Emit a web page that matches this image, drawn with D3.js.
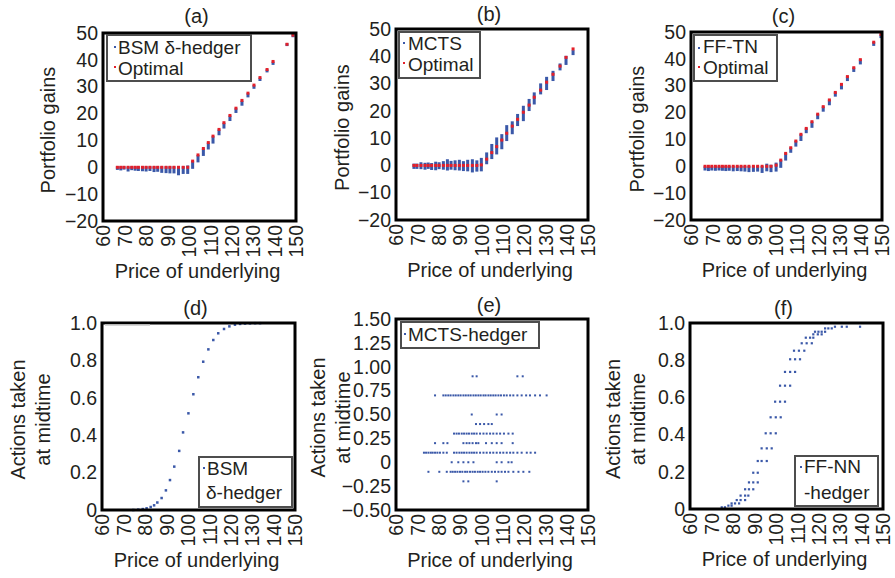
<!DOCTYPE html>
<html>
<head>
<meta charset="utf-8">
<script src="https://cdn.jsdelivr.net/npm/d3@7"></script>
<style>
    body { margin: 0; background: #fff; }
    svg text { font-family: "Liberation Sans", Arial, Helvetica, sans-serif; }
</style>
</head>
<body>
<svg id="svg_fig" width="895" height="578"></svg>
<script>
// ---- tick values / labels ----
const PRICE_TICKS = [60, 70, 80, 90, 100, 110, 120, 130, 140, 150];
const GAIN_TICKS = [-20, -10, 0, 10, 20, 30, 40, 50];
const GAIN_LABELS = ['\u221220', '\u221210', '0', '10', '20', '30', '40', '50'];
const ACT_TICKS = [0, 0.2, 0.4, 0.6, 0.8, 1.0];
const ACT_LABELS = ['0', '0.2', '0.4', '0.6', '0.8', '1.0'];
const MCTS_ACT_TICKS = [-0.5, -0.25, 0, 0.25, 0.5, 0.75, 1.0, 1.25, 1.5];
const MCTS_ACT_LABELS = ['\u22120.50', '\u22120.25', '0', '0.25', '0.50', '0.75', '1.00', '1.25', '1.50'];

// ---- (a) BSM delta hedger vs optimal ----
const A_PRICE = [66.7, 68.3, 69.8, 71.7, 73.4, 75.0, 76.5, 78.4, 80.1, 81.9, 83.8, 85.5, 87.4, 89.4, 91.2, 93.1, 95.2, 97.4, 99.5,
    101.8, 104.3, 106.8, 109.1, 111.3, 114.1, 116.4, 119.2, 122.0, 124.8, 127.6, 130.4, 133.2, 136.5, 139.3, 145.8, 148.6];
const A_OPT = [0, 0, 0, 0, 0, 0, 0, 0, 0, 0, 0, 0, 0, 0, 0, 0, 0, 0, 0,
    2.3, 4.6, 7.0, 9.2, 11.6, 14.1, 16.6, 19.3, 22.0, 24.9, 27.6, 30.6, 33.4, 36.4, 39.4, 45.8, 49.2];
const A_LOW = [-0.6, -0.8, -0.5, -1.2, -0.7, -0.9, -1.0, -1.1, -1.2, -1.0, -1.4, -1.3, -1.7, -1.8, -1.9, -1.9, -2.6, -2.1, -2.1,
    -0.2, 2.2, 4.6, 7.0, 9.2, 12.3, 14.8, 17.6, 20.6, 23.3, 26.4, 29.6, 32.5, 35.7, 38.5, 45.5, 48.8];
const A_HIGH = [0, 0, 0, -0.1, 0, 0, 0, 0, 0, 0, 0, 0, 0, 0, 0, 0, 0, 0, 0.3,
    2.0, 4.2, 6.6, 8.8, 11.2, 13.7, 16.2, 18.9, 21.6, 24.4, 27.2, 30.2, 33.0, 36.1, 39.0, 45.8, 49.2];

// ---- (b) MCTS vs optimal ----
const B_PRICE = [68.4, 69.8, 71.7, 73.6, 75.1, 76.7, 78.6, 80.2, 82.2, 84.1, 85.8, 87.7, 89.7, 91.6, 93.6, 95.8, 97.9, 100.0,
    102.5, 104.9, 107.2, 109.6, 111.9, 114.5, 117.0, 119.7, 122.4, 124.8, 127.8, 130.6, 133.6, 136.9, 139.7, 143.0];
const B_OPT = [0, 0, 0, 0, 0, 0, 0, 0, 0, 0, 0, 0, 0, 0, 0, 0, 0, 0.2,
    2.3, 4.7, 6.9, 9.3, 11.8, 14.4, 16.9, 19.5, 22.1, 25.0, 27.6, 30.5, 33.4, 36.4, 39.6, 42.7];
const B_LOW = [-0.9, -0.9, -1.0, -1.2, -0.9, -1.3, -1.4, -1.0, -1.2, -1.5, -1.2, -1.4, -1.5, -1.7, -1.8, -2.2, -1.9, -1.8,
    0.8, 2.7, 4.4, 6.3, 9.3, 11.8, 14.8, 16.6, 20.3, 22.7, 26.4, 28.0, 31.3, 35.2, 37.2, 40.8];
const B_HIGH = [0.3, 0.3, 0.8, 0.6, 0.7, 0.5, 1.0, 0.8, 1.2, 1.9, 1.3, 1.5, 1.7, 1.2, 1.7, 1.9, 1.5, 2.4,
    4.4, 7.5, 9.9, 11.1, 14.4, 15.8, 18.5, 21.5, 24.0, 26.4, 29.7, 32.1, 34.3, 37.0, 39.8, 41.9];

// ---- (c) FF-TN vs optimal ----
const C_PRICE = [66.6, 68.2, 69.8, 71.5, 73.2, 74.8, 76.4, 78.0, 79.9, 81.8, 83.6, 85.4, 87.3, 89.4, 91.4, 93.5, 95.7, 97.7, 100.1,
    102.3, 104.6, 107.0, 109.4, 111.8, 114.3, 117.0, 119.7, 122.3, 125.2, 128.0, 130.9, 133.7, 136.7, 139.8, 146.1, 149.5];
const C_OPT = [0, 0, 0, 0, 0, 0, 0, 0, 0, 0, 0, 0, 0, 0, 0, 0, 0, 0, 0.4,
    2.3, 4.8, 6.9, 9.4, 11.9, 14.1, 16.6, 19.4, 22.2, 24.7, 27.5, 30.5, 33.4, 36.7, 39.7, 46.2, 49.1];
const C_LOW = [-1.2, -1.4, -1.2, -1.3, -1.2, -1.3, -1.4, -1.3, -1.5, -1.4, -1.5, -1.6, -1.8, -1.7, -1.6, -2.1, -1.5, -1.8, -1.6,
    -0.2, 2.5, 5.4, 7.7, 9.8, 12.7, 14.7, 17.9, 20.7, 23.1, 26.3, 29.0, 32.1, 35.5, 38.3, 45.2, 48.1];
const C_HIGH = [-0.4, -0.5, -0.4, -0.3, -0.4, -0.3, -0.3, -0.3, -0.3, -0.3, -0.3, -0.3, -0.3, -0.3, -0.3, -0.3, 0.6, 0.2, 1.0,
    2.0, 4.5, 6.6, 9.1, 11.6, 13.8, 16.3, 19.1, 21.9, 24.4, 27.2, 30.2, 33.1, 36.4, 39.4, 45.9, 48.8];

// ---- (d) BSM delta at midtime ----
const D_PRICE = [74.6, 76.9, 79.0, 80.8, 82.7, 84.3, 85.8, 87.8, 89.8, 91.7, 93.7, 96.0, 97.8, 100.3, 102.6, 104.9,
    107.2, 109.6, 111.9, 114.2, 116.9, 119.4, 122.0, 124.4, 126.7, 129.0, 131.4, 133.7];
const D_ACTION = [0.000, 0.002, 0.005, 0.009, 0.016, 0.025, 0.040, 0.064, 0.105, 0.160, 0.232, 0.316, 0.415, 0.517, 0.619, 0.710,
    0.793, 0.859, 0.909, 0.945, 0.968, 0.982, 0.991, 0.995, 0.997, 0.998, 0.999, 0.999];

// ---- (e) MCTS actions at midtime: one price list per action level ----
const E_ACTION = [0.9, 0.7, 0.5, 0.4, 0.3, 0.2, 0.1, 0.0, -0.1, -0.2];
const E_PRICES = [
    [95.9, 97.8, 116.9, 119.4],
    [78.3, 82.2, 83.3, 84.5, 85.6, 86.9, 88.0, 89.2, 90.3, 91.6, 92.7, 93.9, 95.0, 96.3, 97.4, 98.6, 99.7, 101.0, 102.0, 103.3,
        104.4, 105.6, 106.7, 108.0, 109.2, 110.6, 111.9, 113.5, 115.0, 116.9, 118.9, 121.0, 122.8, 125.2, 127.5, 130.6],
    [95.5, 107.2, 109.5],
    [97.5, 99.4, 101.3, 103.3, 104.9],
    [87.2, 88.4, 89.5, 90.8, 91.9, 93.1, 94.2, 95.5, 96.6, 97.8, 99.4, 101.0, 102.5, 104.1, 105.6, 107.2, 108.8, 110.6, 112.7, 114.7],
    [78.3, 82.2, 84.1, 91.6, 93.1, 94.4, 95.9, 97.5, 98.6, 102.2, 104.9, 107.2, 109.5, 114.7],
    [73.1, 74.1, 75.2, 76.3, 77.2, 78.3, 79.4, 80.6, 82.2, 83.8, 87.2, 88.4, 89.7, 90.8, 91.9, 93.1, 94.4, 95.5, 96.6, 97.8,
        99.4, 101.0, 102.5, 104.1, 105.6, 107.2, 108.8, 110.3, 111.9, 113.5, 115.0, 116.9, 118.9, 121.3, 123.1, 125.2],
    [86.1, 89.2, 91.6, 93.9, 96.3, 107.2, 109.5, 112.7, 114.2],
    [75.2, 80.3, 83.8, 85.6, 86.6, 87.7, 88.8, 90.0, 91.1, 92.4, 93.4, 94.7, 95.9, 97.0, 98.3, 99.4, 100.6, 101.9, 103.3,
        104.9, 106.4, 108.0, 109.5, 111.1, 112.7, 115.0, 117.4, 119.7, 122.5],
    [91.6, 93.9, 107.2]
];

// ---- (f) FF-NN actions at midtime: one price list per action level ----
const F_ACTION = [0.980, 0.971, 0.953, 0.939, 0.921, 0.891, 0.851, 0.805, 0.737, 0.663, 0.577, 0.493,
    0.407, 0.326, 0.258, 0.195, 0.143, 0.106, 0.072, 0.048, 0.030, 0.018, 0.009];
const F_PRICES = [
    [127.6, 130.8, 133.1, 139.3], [123.0, 124.5, 126.1], [118.3, 119.9, 121.4, 123.0], [117.5, 119.6, 121.4],
    [114.0, 116.0, 117.5], [112.1, 114.4, 116.8], [108.5, 110.8, 113.3], [106.7, 109.0, 111.3],
    [104.3, 106.7, 109.0], [102.0, 104.3, 106.7], [99.7, 102.0, 104.3], [97.6, 100.0, 102.3],
    [95.3, 97.6, 100.0], [93.4, 95.8, 98.1], [91.6, 93.4, 95.8], [89.5, 91.6],
    [87.5, 89.5, 91.6], [85.7, 87.5, 89.5], [83.6, 85.7, 87.2], [81.8, 83.6, 85.7],
    [79.4, 81.0, 82.9], [77.9, 79.4], [74.8, 76.3]
];

const BLUE = '#3a58a8', RED = '#e3202a', INK = '#231f20';

let fig = (function () {
    let svg = d3.select('#svg_fig');

    // one framed panel with rotated price ticks; returns its scales and group
    function panel(box, yDomain, yTicks, yLabels, title, titleY, yTitle, yTitleX) {
        let g = svg.append('g');
        let x = d3.scaleLinear().domain([60, 150]).range([box.l, box.r]);
        let y = d3.scaleLinear().domain(yDomain).range([box.b, box.t]);

        let ya = g.append('g').attr('transform', `translate(${box.l},0)`)
            .call(d3.axisLeft(y).tickValues(yTicks).tickFormat((d, i) => yLabels[i]).tickSize(0).tickPadding(5));
        ya.select('.domain').remove();
        ya.attr('font-size', 19.5).attr('font-family', null).attr('color', INK);

        let xa = g.append('g').attr('transform', `translate(0,${box.b})`)
            .call(d3.axisBottom(x).tickValues(PRICE_TICKS).tickSize(0));
        xa.select('.domain').remove();
        xa.attr('font-size', 19.5).attr('font-family', null).attr('color', INK);
        xa.selectAll('text')
            .attr('transform', 'rotate(-90)')
            .attr('text-anchor', 'end')
            .attr('x', -4).attr('y', 0).attr('dy', '0.35em');

        g.append('text').attr('x', (box.l + box.r) / 2 - 3).attr('y', titleY)
            .attr('text-anchor', 'middle').attr('font-size', 20).attr('fill', INK).text(title);
        g.append('text').attr('x', (box.l + box.r) / 2 - 2).attr('y', box.b + 57)
            .attr('text-anchor', 'middle').attr('font-size', 20).attr('fill', INK).text('Price of underlying');
        yTitle.forEach((t, i) => {
            g.append('text')
                .attr('transform', `translate(${yTitleX[i]},${(box.t + box.b) / 2 + 3}) rotate(-90)`)
                .attr('text-anchor', 'middle').attr('font-size', 20).attr('fill', INK).text(t);
        });

        let plot = g.append('g');
        g.append('rect').attr('x', box.l).attr('y', box.t)
            .attr('width', box.r - box.l).attr('height', box.b - box.t)
            .attr('fill', 'none').attr('stroke', '#000').attr('stroke-width', 3);
        return { x, y, plot, g };
    }

    function legend(g, rect, rows) {
        g.append('rect').attr('x', rect[0]).attr('y', rect[1])
            .attr('width', rect[2] - rect[0]).attr('height', rect[3] - rect[1])
            .attr('fill', '#fff').attr('stroke', '#4d4d4d').attr('stroke-width', 2);
        rows.forEach(r => {
            if (r.color) {
                g.append('rect').attr('x', r.mx - 1).attr('y', r.my - 1)
                    .attr('width', 2).attr('height', 2).attr('fill', r.color);
            }
            g.append('text').attr('x', r.tx).attr('y', r.ty)
                .attr('font-size', 19).attr('fill', INK).text(r.text);
        });
    }

    // hedger spread as a narrow column, optimal gain as a red tick
    function gains(p, price, low, high, opt) {
        p.plot.selectAll('.hedge').data(price).enter()
            .append('rect').attr('class', 'hedge')
            .attr('x', d => p.x(d) - 1.5)
            .attr('y', (d, i) => p.y(high[i]) - 1)
            .attr('width', 3)
            .attr('height', (d, i) => Math.max(2.5, p.y(low[i]) - p.y(high[i]) + 2))
            .attr('fill', BLUE);
        p.plot.selectAll('.opt').data(price).enter()
            .append('rect').attr('class', 'opt')
            .attr('x', d => p.x(d) - 1.5)
            .attr('y', (d, i) => p.y(opt[i]) - 1.5)
            .attr('width', 3).attr('height', 3)
            .attr('fill', RED);
    }

    function dots(p, pts, s) {
        p.plot.selectAll('.dot').data(pts).enter()
            .append('rect').attr('class', 'dot')
            .attr('x', d => p.x(d[0]) - s / 2)
            .attr('y', d => p.y(d[1]) - s / 2)
            .attr('width', s).attr('height', s)
            .attr('fill', BLUE);
    }

    function rows(levels, prices) {
        let out = [];
        levels.forEach((v, i) => prices[i].forEach(pr => out.push([pr, v])));
        return out;
    }

    // top row
    let pa = panel({ l: 103, r: 296, t: 33, b: 221 }, [-20, 50], GAIN_TICKS, GAIN_LABELS, '(a)', 23, ['Portfolio gains'], [55]);
    gains(pa, A_PRICE, A_LOW, A_HIGH, A_OPT);
    legend(pa.g, [107, 35, 251, 81], [
        { color: BLUE, mx: 115, my: 47, tx: 118, ty: 54, text: 'BSM \u03b4-hedger' },
        { color: RED, mx: 115, my: 67, tx: 118, ty: 75, text: 'Optimal' }
    ]);

    let pb = panel({ l: 396, r: 588, t: 29, b: 220 }, [-20, 50], GAIN_TICKS, GAIN_LABELS, '(b)', 21, ['Portfolio gains'], [349]);
    gains(pb, B_PRICE, B_LOW, B_HIGH, B_OPT);
    legend(pb.g, [399, 32, 480, 78], [
        { color: BLUE, mx: 404, my: 43, tx: 408, ty: 50, text: 'MCTS' },
        { color: RED, mx: 404, my: 63, tx: 408, ty: 71, text: 'Optimal' }
    ]);

    let pc = panel({ l: 691, r: 882, t: 32, b: 220 }, [-20, 50], GAIN_TICKS, GAIN_LABELS, '(c)', 23, ['Portfolio gains'], [644]);
    gains(pc, C_PRICE, C_LOW, C_HIGH, C_OPT);
    legend(pc.g, [694, 35, 777, 81], [
        { color: BLUE, mx: 699, my: 48, tx: 703, ty: 53, text: 'FF-TN' },
        { color: RED, mx: 699, my: 67, tx: 703, ty: 74, text: 'Optimal' }
    ]);

    // bottom row
    let pd = panel({ l: 102, r: 295, t: 323, b: 510 }, [0, 1], ACT_TICKS, ACT_LABELS, '(d)', 315,
        ['Actions taken', 'at midtime'], [25, 50]);
    pd.g.append('line').attr('x1', 105).attr('x2', 150).attr('y1', 325).attr('y2', 325)
        .attr('stroke', '#c8c8c8').attr('stroke-width', 1.5);
    dots(pd, D_PRICE.map((d, i) => [d, D_ACTION[i]]), 2.5);
    legend(pd.g, [199, 457, 292, 507], [
        { color: BLUE, mx: 204, my: 468, tx: 207, ty: 475, text: 'BSM' },
        { tx: 206, ty: 499, text: '\u03b4-hedger' }
    ]);

    let pe = panel({ l: 396, r: 588, t: 319, b: 510 }, [-0.5, 1.5], MCTS_ACT_TICKS, MCTS_ACT_LABELS, '(e)', 312,
        ['Actions taken', 'at midtime'], [325, 350]);
    dots(pe, rows(E_ACTION, E_PRICES), 2);
    legend(pe.g, [401, 322, 539, 348], [
        { color: BLUE, mx: 405, my: 334, tx: 408, ty: 341, text: 'MCTS-hedger' }
    ]);

    let pf = panel({ l: 690, r: 883, t: 323, b: 509 }, [0, 1], ACT_TICKS, ACT_LABELS, '(f)', 315,
        ['Actions taken', 'at midtime'], [620, 645]);
    dots(pf, rows(F_ACTION, F_PRICES), 2.2);
    legend(pf.g, [795, 456, 878, 506], [
        { color: BLUE, mx: 801, my: 467, tx: 804, ty: 473, text: 'FF-NN' },
        { tx: 804, ty: 499, text: '-hedger' }
    ]);

    return { pa, pb, pc, pd, pe, pf };
})();
</script>
</body>
</html>
